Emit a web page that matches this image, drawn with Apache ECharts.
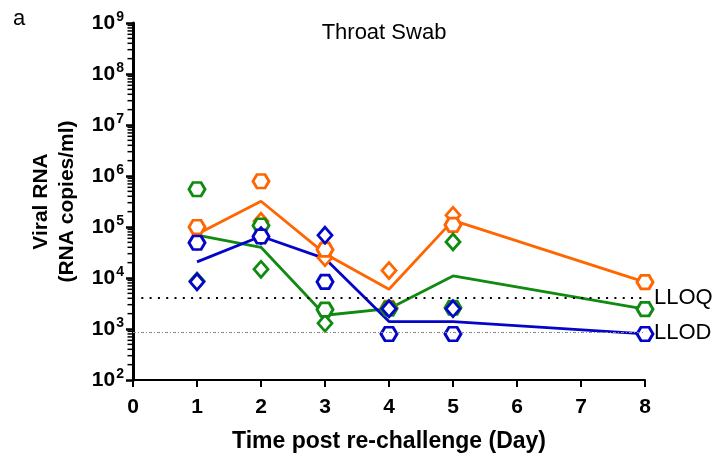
<!DOCTYPE html>
<html><head><meta charset="utf-8">
<script src="https://cdn.jsdelivr.net/npm/echarts@6/dist/echarts.min.js"></script>
<style>html,body{margin:0;padding:0;background:#fff}#c{width:714px;height:464px}</style>
</head><body><div id="c"></div>
<script>
// ---- data ----
const days = [1, 2, 3, 4, 5, 8];
const orangeHex  = [1.0e5, 7.9e5, 3.6e4, 2.6e3, 1.1e5, 8.3e3];
const orangeDia  = [5.3e4, 1.3e5, 2.5e4, 1.4e4, 1.7e5, null];
const orangeMean = [7.2e4, 3.2e5, 3.0e4, 6.0e3, 1.35e5, 8.3e3];
const greenHex   = [5.5e5, 1.07e5, 2.4e3, 2.5e3, 2.6e3, 2.45e3];
const greenDia   = [8.7e3, 1.48e4, 1.3e3, 2.5e3, 5.1e4, null];
const greenMean  = [6.9e4, 4.0e4, 1.86e3, 2.5e3, 1.1e4, 2.45e3];
const blueHex    = [4.9e4, 6.5e4, 8.4e3, 8.0e2, 8.0e2, 8.0e2];
const blueDia    = [8.4e3, 6.8e4, 6.9e4, 2.5e3, 2.5e3, null];
const blueMean   = [2.07e4, 6.6e4, 2.4e4, 1.4e3, 1.4e3, 8.0e2];
const LLOQ = 4100;
const LLOD = 850;
const xTickLabels = ['0', '1', '2', '3', '4', '5', '6', '7', '8'];
const yDecades = [2, 3, 4, 5, 6, 7, 8, 9];

const ORANGE = '#ff6600', GREEN = '#118a11', BLUE = '#0505c8';
const FONT = 'Liberation Sans, Arial, sans-serif';
const HEX = 'path://M0,50 L25,7 L75,7 L100,50 L75,93 L25,93 Z';

function pairs(vals) {
  const out = [];
  vals.forEach((v, i) => { if (v != null) out.push([days[i], v]); });
  return out;
}
// minor tick positions of the log axis (2..9 x 10^n)
const minorTicks = [];
for (let d = yDecades[0]; d < yDecades[yDecades.length - 1]; d++) {
  for (let k = 2; k <= 9; k++) minorTicks.push([0, k * Math.pow(10, d)]);
}

function lineSeries(data, color) {
  return { type: 'line', data: pairs(data), showSymbol: false, symbol: 'none', z: 2,
    lineStyle: { color: color, width: 2.8 }, itemStyle: { color: color }, silent: true };
}
function scatterSeries(data, color, symbol, size) {
  return { type: 'scatter', data: pairs(data), symbol: symbol, symbolSize: size, z: 3,
    itemStyle: { color: '#fff', borderColor: color, borderWidth: 2.8, opacity: 1 }, silent: true };
}
const HEX_SIZE = [16, 13.5], DIA_SIZE = [14, 16];

const chart = echarts.init(document.getElementById('c'), null, { renderer: 'canvas' });
chart.setOption({
  animation: false,
  backgroundColor: '#fff',
  textStyle: { fontFamily: FONT },
  title: [
    { text: 'Throat Swab', left: 379, top: 17, textAlign: 'center',
      textStyle: { fontFamily: FONT, fontSize: 22, fontWeight: 'normal', color: '#000' } },
    { text: 'a', left: 8, top: 3,
      textStyle: { fontFamily: FONT, fontSize: 22, fontWeight: 'normal', color: '#000' } }
  ],
  grid: { left: 133, right: 69, top: 23, bottom: 84, containLabel: false },
  xAxis: {
    type: 'value', min: 0, max: 8, interval: 1,
    name: 'Time post re-challenge (Day)', nameLocation: 'middle', nameGap: 50,
    nameTextStyle: { fontFamily: FONT, fontSize: 23, fontWeight: 'bold', color: '#000' },
    axisLine: { show: true, lineStyle: { color: '#000', width: 2 } },
    axisTick: { show: true, inside: false, length: 7, lineStyle: { color: '#000', width: 2 } },
    axisLabel: { fontFamily: FONT, fontSize: 21, fontWeight: 'bold', color: '#000', margin: 17,
      formatter: v => xTickLabels[v] },
    splitLine: { show: false }
  },
  yAxis: {
    type: 'log', logBase: 10, min: 1e2, max: 1e9, splitNumber: 7,
    name: 'Viral RNA\n(RNA copies/ml)', nameLocation: 'middle', nameGap: 53, nameRotate: 90,
    nameTextStyle: { fontFamily: FONT, fontSize: 21, fontWeight: 'bold', color: '#000', lineHeight: 26 },
    axisLine: { show: true, onZero: false, lineStyle: { color: '#000', width: 3 } },
    axisTick: { show: true, length: 7, lineStyle: { color: '#000', width: 2.5 } },
    axisLabel: { color: '#000', margin: 9,
      formatter: v => '{b|10}{s|' + Math.round(Math.log10(v)) + '}',
      rich: {
        b: { fontFamily: FONT, fontSize: 21, fontWeight: 'bold', color: '#000', lineHeight: 22 },
        s: { fontFamily: FONT, fontSize: 14, fontWeight: 'bold', color: '#000', lineHeight: 22,
             verticalAlign: 'bottom', padding: [0, 0, 10, 1] }
      } },
    splitLine: { show: false }
  },
  series: [
    { type: 'custom', data: minorTicks, encode: { x: 0, y: 1 }, z: 5, silent: true, clip: false,
      renderItem: (params, api) => {
        const p = api.coord([0, api.value(1)]);
        return { type: 'line', shape: { x1: p[0] - 5.5, y1: p[1], x2: p[0] - 1, y2: p[1] },
                 style: { stroke: '#000', lineWidth: 1.5 } };
      } },
    { type: 'line', data: [], silent: true, z: 1,
      markLine: { silent: true, symbol: 'none', animation: false,
        label: { show: true, position: 'end', distance: 9, fontFamily: FONT, fontSize: 22, color: '#000' },
        data: [
          { yAxis: LLOQ, label: { formatter: 'LLOQ' },
            lineStyle: { color: '#000', width: 2, type: [2, 6.3] } },
          { yAxis: LLOD, label: { formatter: 'LLOD' },
            lineStyle: { color: '#8a8a8a', width: 1, type: [3, 2, 1, 2] } }
        ] } },
    lineSeries(orangeMean, ORANGE),
    lineSeries(greenMean, GREEN),
    lineSeries(blueMean, BLUE),
    scatterSeries(orangeDia, ORANGE, 'diamond', DIA_SIZE),
    scatterSeries(orangeHex, ORANGE, HEX, HEX_SIZE),
    scatterSeries(greenDia, GREEN, 'diamond', DIA_SIZE),
    scatterSeries(greenHex, GREEN, HEX, HEX_SIZE),
    scatterSeries(blueDia, BLUE, 'diamond', DIA_SIZE),
    scatterSeries(blueHex, BLUE, HEX, HEX_SIZE)
  ]
});
</script></body></html>
